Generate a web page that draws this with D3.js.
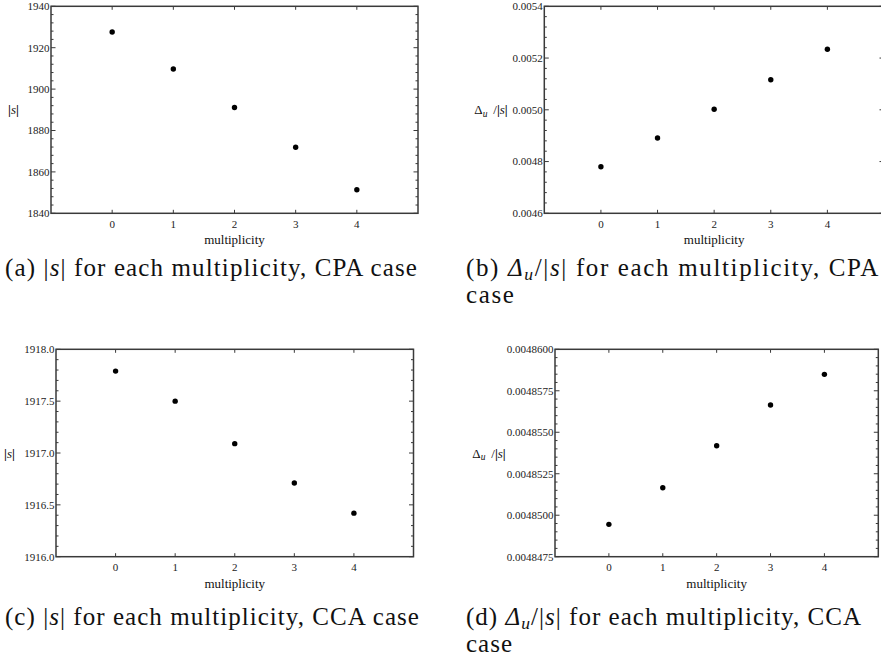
<!DOCTYPE html>
<html>
<head>
<meta charset="utf-8">
<script src="https://cdn.jsdelivr.net/npm/d3@7"></script>
<style>
  html, body { margin: 0; padding: 0; background: #fff; }
  svg { display: block; }
</style>
</head>
<body>
<svg id="chart" width="881" height="657"></svg>
<script>
// Multiplicity values on the horizontal axis
const multiplicity = [0, 1, 2, 3, 4];

// |s| and Δu/|s| for the CPA and CCA cases
const sCPA = [1927.6, 1909.7, 1891.1, 1871.9, 1851.4];
const ratioCPA = [0.004780, 0.004891, 0.005002, 0.005116, 0.005234];
const sCCA = [1917.79, 1917.50, 1917.09, 1916.71, 1916.42];
const ratioCCA = [0.00484945, 0.00485166, 0.00485419, 0.00485664, 0.00485849];

// Major tick labels of each vertical axis
const sCPATicks = ["1840", "1860", "1880", "1900", "1920", "1940"];
const ratioCPATicks = ["0.0046", "0.0048", "0.0050", "0.0052", "0.0054"];
const sCCATicks = ["1916.0", "1916.5", "1917.0", "1917.5", "1918.0"];
const ratioCCATicks = ["0.0048475", "0.0048500", "0.0048525", "0.0048550", "0.0048575", "0.0048600"];

// Sub-figure captions: [text, style] runs
const captionA = [["(a) |", ""], ["s", "i"], ["| for each multiplicity, CPA case", ""]];
const captionB = [["(b) ", ""], ["Δ", "i"], ["u", "sub"], ["/|", ""], ["s", "i"], ["| for each multiplicity, CPA", ""]];
const captionC = [["(c) |", ""], ["s", "i"], ["| for each multiplicity, CCA case", ""]];
const captionD = [["(d) ", ""], ["Δ", "i"], ["u", "sub"], ["/|", ""], ["s", "i"], ["| for each multiplicity, CCA", ""]];

const SERIF = "'Liberation Serif', 'Times New Roman', serif";
const svg = d3.select("#chart");

const panels = [
  { values: sCPA, ticks: sCPATicks, label: "s",
    frame: { left: 51, right: 418, top: 6.3, bottom: 213.3 }, labelX: 13.5,
    caption: captionA, second: null, capX: 5, capW: 413, capY: 276 },
  { values: ratioCPA, ticks: ratioCPATicks, label: "ratio",
    frame: { left: 544.3, right: 884, top: 6.3, bottom: 213.3 }, labelX: 491,
    caption: captionB, second: "case", capX: 466, capW: 414, capY: 276 },
  { values: sCCA, ticks: sCCATicks, label: "s",
    frame: { left: 56, right: 413.5, top: 349.3, bottom: 556.7 }, labelX: 9.5,
    caption: captionC, second: null, capX: 5, capW: 415, capY: 625 },
  { values: ratioCCA, ticks: ratioCCATicks, label: "ratio",
    frame: { left: 555, right: 878.3, top: 349.3, bottom: 556.7 }, labelX: 489,
    caption: captionD, second: "case", capX: 466, capW: 396, capY: 625 }
];

const frameColor = "#3a3a3a";
const minorDiv = 5;

panels.forEach(p => {
  const f = p.frame;
  const tickVals = p.ticks.map(Number);
  const x = d3.scaleLinear().domain([-1, 5]).range([f.left, f.right]);
  const y = d3.scaleLinear().domain(d3.extent(tickVals)).range([f.bottom, f.top]);
  const g = svg.append("g");

  // minor and major ticks, pointing inward on all four sides
  const step = tickVals[1] - tickVals[0];
  const minor = [];
  for (let i = 0; i < tickVals.length - 1; i++) {
    for (let k = 1; k < minorDiv; k++) minor.push(tickVals[i] + step * k / minorDiv);
  }
  const tickG = g.append("g").attr("stroke", frameColor).attr("stroke-width", 1);
  const hTick = (v, len) => {
    tickG.append("line").attr("x1", f.left).attr("x2", f.left + len).attr("y1", y(v)).attr("y2", y(v));
    tickG.append("line").attr("x1", f.right).attr("x2", f.right - len).attr("y1", y(v)).attr("y2", y(v));
  };
  minor.forEach(v => hTick(v, 2.5));
  tickVals.forEach(v => hTick(v, 4.5));
  multiplicity.forEach(v => {
    tickG.append("line").attr("x1", x(v)).attr("x2", x(v)).attr("y1", f.bottom).attr("y2", f.bottom - 3.5);
    tickG.append("line").attr("x1", x(v)).attr("x2", x(v)).attr("y1", f.top).attr("y2", f.top + 3.5);
  });

  // frame
  g.append("rect")
    .attr("x", f.left).attr("y", f.top)
    .attr("width", f.right - f.left).attr("height", f.bottom - f.top)
    .attr("fill", "none").attr("stroke", frameColor).attr("stroke-width", 1.5);

  // y tick labels
  g.selectAll(".ylab").data(p.ticks).join("text")
    .attr("x", f.left - 1.5).attr("y", d => y(+d) + 3.8)
    .attr("text-anchor", "end")
    .style("font-family", SERIF).style("font-size", "11px").attr("fill", "#222")
    .text(d => d);

  // x tick labels
  g.selectAll(".xlab").data(multiplicity).join("text")
    .attr("x", d => x(d)).attr("y", f.bottom + 14.5)
    .attr("text-anchor", "middle")
    .style("font-family", SERIF).style("font-size", "11px").attr("fill", "#222")
    .text(d => d);

  // x axis title
  g.append("text")
    .attr("x", (x(0) + x(4)) / 2).attr("y", f.bottom + 31)
    .attr("text-anchor", "middle")
    .style("font-family", SERIF).style("font-size", "13px").attr("fill", "#111")
    .text("multiplicity");

  // y axis title
  const yt = g.append("text")
    .attr("x", p.labelX).attr("y", (f.top + f.bottom) / 2 + 4.5)
    .attr("text-anchor", "middle")
    .style("font-family", SERIF).style("font-size", "13px").attr("fill", "#111");
  if (p.label === "ratio") {
    yt.append("tspan").text("Δ");
    yt.append("tspan").attr("font-style", "italic").style("font-size", "9.5px").attr("dy", 2.5).text("u");
    yt.append("tspan").attr("dy", -2.5).text("\u2009 /");
  }
  yt.append("tspan").attr("font-weight", "bold").text("|");
  yt.append("tspan").attr("font-style", "italic").text("s");
  yt.append("tspan").attr("font-weight", "bold").text("|");

  // data points
  g.selectAll("circle").data(multiplicity).join("circle")
    .attr("cx", d => x(d)).attr("cy", (d, i) => y(p.values[i]))
    .attr("r", 2.7).attr("fill", "#000");
});

// captions below each panel, spaced to fill the panel's width
const capSize = 25;
panels.forEach(p => {
  const t = svg.append("text")
    .attr("x", p.capX).attr("y", p.capY)
    .style("font-family", SERIF).style("font-size", capSize + "px").attr("fill", "#111");
  let inSub = false;
  p.caption.forEach(([txt, style]) => {
    const s = t.append("tspan").text(txt);
    if (style === "i") s.attr("font-style", "italic");
    if (style === "sub") {
      s.attr("font-style", "italic").style("font-size", (capSize * 0.7) + "px").attr("dy", 4);
      inSub = true;
    } else if (inSub) {
      s.attr("dy", -4);
      inSub = false;
    }
  });
  const n = t.text().length;
  const w = t.node().getComputedTextLength();
  const spacing = (p.capW - w) / n;
  t.style("letter-spacing", spacing + "px");
  if (p.second) {
    svg.append("text")
      .attr("x", p.capX).attr("y", p.capY + 27)
      .style("font-family", SERIF).style("font-size", capSize + "px").attr("fill", "#111")
      .style("letter-spacing", spacing + "px")
      .text(p.second);
  }
});
</script>
</body>
</html>
